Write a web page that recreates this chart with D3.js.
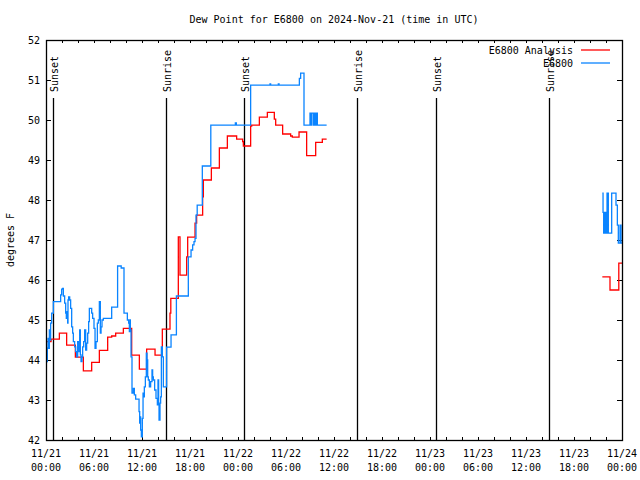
<!DOCTYPE html>
<html>
<head>
<meta charset="utf-8">
<script src="https://cdn.jsdelivr.net/npm/d3@7"></script>
<style>
  html, body { margin: 0; padding: 0; background: #fff; }
  svg { display: block; }
  text { font-family: "DejaVu Sans Mono", "Liberation Mono", monospace; font-size: 10px; fill: #000; }
</style>
</head>
<body>
<svg id="chart" width="640" height="480"></svg>
<script>
// ---- data (hours since 2024-11-21 00:00 UTC) ----
const titleText = "Dew Point for E6800 on 2024-Nov-21 (time in UTC)";
const yLabel = "degrees F";
const seriesNames = ["E6800 Analysis", "E6800"];

const analysisHours = [0.08, 0.63, 1.67, 2.58, 3.67, 4.67, 5.71, 6.67, 7.71, 8.21, 8.71, 9.67, 10.71, 11.67, 12.58, 13.63, 14.54, 15.5, 15.6, 16.54, 16.75, 17.58, 17.71, 18.63, 18.83, 19.58, 19.67, 20.67, 21.67, 22.67, 23.83, 24.58, 24.67, 25.58, 25.71, 26.67, 27.67, 28.54, 28.71, 29.58, 30.58, 30.79, 31.63, 32.58, 33.71, 34.54, 35.08, 35.1,
  69.54, 70.5, 71.6, 72.0];
const analysisValues = [44.46, 44.52, 44.67, 44.37, 44.07, 43.73, 43.94, 44.24, 44.57, 44.6, 44.67, 44.79, 44.12, 43.77, 44.27, 44.12, 44.77, 45.17, 45.54, 47.08, 46.12, 46.58, 47.07, 47.42, 47.62, 48.08, 48.5, 48.8, 49.3, 49.6, 49.52, 49.46, 49.35, 49.85, 49.87, 50.07, 50.19, 50.02, 49.87, 49.65, 49.6, 49.57, 49.7, 49.11, 49.44, 49.52, 49.52, null,
  46.08, 45.75, 46.42, 46.42];

const obsHours = [0.0, 0.08, 0.17, 0.25, 0.33, 0.42, 0.5, 0.58, 0.71, 0.92, 1.83, 1.96, 2.08, 2.17, 2.33, 2.46, 2.54, 2.63, 2.71, 2.75, 2.83, 2.96, 3.08, 3.21, 3.33, 3.42, 3.58, 3.71, 3.83, 3.96, 4.08, 4.21, 4.29, 4.38, 4.5, 4.58, 4.71, 4.83, 4.96, 5.08, 5.21, 5.33, 5.42, 5.71, 5.83, 6.0, 6.13, 6.25, 6.42, 6.54, 6.67, 6.79, 6.88, 7.0, 7.17, 8.21, 8.95, 9.4, 9.75, 10.17, 10.33, 10.42, 10.5, 10.54, 10.63, 10.75, 10.92, 11.04, 11.21, 11.63, 11.71, 11.79, 11.83, 11.92, 12.04, 12.13, 12.21, 12.29, 12.42, 12.54, 12.63, 12.71, 12.79, 12.92, 13.08, 13.25, 13.33, 13.42, 13.58, 13.75, 13.92, 14.0, 14.08, 14.13, 14.25, 14.33, 14.42, 14.54, 14.67, 15.08, 15.63, 16.3, 17.79, 18.13, 18.33, 18.5, 18.63, 18.75, 18.9, 19.54, 20.6, 23.67, 23.79, 25.58, 28.0, 28.08, 29.04, 29.13, 31.67, 31.83, 32.25, 33.0, 33.13, 33.21, 33.42, 33.5, 33.58, 33.67, 33.75, 33.83, 33.92, 34.2, 35.08, 35.1,
  69.54, 69.63, 69.71, 69.79, 69.88, 69.96, 70.04, 70.13, 70.29, 70.71, 71.25, 71.42, 71.54, 71.75, 71.88, 72.0];
const obsValues = [44.3, 43.96, 44.29, 44.54, 44.29, 44.75, 44.5, 44.92, 45.17, 45.46, 45.63, 45.77, 45.79, 45.6, 45.42, 45.17, 45.04, 45.21, 44.92, 45.5, 45.58, 45.5, 45.29, 44.83, 44.67, 44.46, 44.33, 44.21, 44.08, 44.46, 44.21, 44.75, 44.13, 43.96, 44.08, 44.33, 44.46, 44.75, 44.25, 44.42, 44.67, 44.96, 45.29, 45.17, 45.04, 44.79, 44.29, 44.46, 44.92, 45.0, 45.46, 44.67, 44.83, 45.0, 45.04, 45.32, 46.35, 46.3, 45.17, 45.0, 44.92, 44.71, 45.0, 44.75, 44.08, 43.17, 43.29, 43.13, 43.02, 42.71, 42.42, 42.58, 42.25, 42.08, 42.54, 43.17, 43.08, 43.33, 43.58, 44.17, 44.0, 43.58, 43.5, 43.33, 43.46, 43.75, 43.58, 43.5, 43.25, 43.04, 42.88, 43.5, 42.88, 42.5, 42.92, 43.08, 44.33, 44.08, 43.33, 44.32, 44.63, 45.6, 46.58, 46.75, 46.88, 46.96, 47.04, 47.62, 47.87, 48.85, 49.87, 49.93, 49.87, 50.87, 50.9, 50.87, 50.9, 50.87, 51.04, 51.17, 49.87, 50.17, 49.87, 50.17, 49.87, 50.17, 49.87, 50.17, 49.87, 50.17, 49.87, 49.87, 49.87, null,
  48.17, 47.69, 47.17, 47.69, 47.17, 47.69, 47.17, 48.17, 47.17, 48.17, 47.87, 47.37, 46.92, 47.37, 46.92, 46.92];

const eventNames = ["Sunset", "Sunrise", "Sunset", "Sunrise", "Sunset", "Sunrise"];
const eventHours = [0.9, 15.06, 24.8, 38.88, 48.75, 62.88];

const yTicks = [42, 43, 44, 45, 46, 47, 48, 49, 50, 51, 52];

// ---- layout ----
const svg = d3.select("#chart");
const L = 46, R = 622, T = 40, B = 440;
const t0 = Date.UTC(2024, 10, 21, 0, 0);
const toDate = h => new Date(t0 + h * 3600e3);

const x = d3.scaleUtc().domain([toDate(0), toDate(72)]).range([L, R]);
const y = d3.scaleLinear().domain([42, 52]).range([B, T]);

const red = "#ff0000", blue = "#0a84ff";

// title
svg.append("text").attr("x", (L + R) / 2).attr("y", 23).attr("text-anchor", "middle").text(titleText);

// y label
svg.append("text").attr("transform", `translate(14,${(T + B) / 2}) rotate(-90)`)
  .attr("text-anchor", "middle").text(yLabel);

const g = svg.append("g");

// axes with inward ticks
const xTickVals = d3.utcHour.every(2).range(toDate(0), toDate(72.01));
const axBottom = d3.axisBottom(x).tickValues(xTickVals).tickSizeInner(-3).tickSizeOuter(0).tickFormat("");
const axTop = d3.axisTop(x).tickValues(xTickVals).tickSizeInner(-3).tickSizeOuter(0).tickFormat("");
const axLeft = d3.axisLeft(y).tickValues(yTicks).tickSizeInner(-5).tickSizeOuter(0).tickFormat("");
const axRight = d3.axisRight(y).tickValues(yTicks).tickSizeInner(-5).tickSizeOuter(0).tickFormat("");

function styleAxis(sel) {
  sel.selectAll("path").remove();
  sel.selectAll("line").attr("stroke", "#000").attr("shape-rendering", "crispEdges");
}
g.append("g").attr("transform", `translate(0,${B})`).call(axBottom).call(styleAxis);
g.append("g").attr("transform", `translate(0,${T})`).call(axTop).call(styleAxis);
g.append("g").attr("transform", `translate(${L},0)`).call(axLeft).call(styleAxis);
g.append("g").attr("transform", `translate(${R},0)`).call(axRight).call(styleAxis);

// y tick labels
g.selectAll(".ylab").data(yTicks).enter().append("text")
  .attr("x", 40).attr("y", d => y(d) + 4).attr("text-anchor", "end").text(d => d);

// x tick labels (every 6h, two lines)
const xLabelVals = d3.utcHour.every(6).range(toDate(0), toDate(72.01));
const fDate = d3.utcFormat("%m/%d"), fTime = d3.utcFormat("%H:%M");
const xl = g.selectAll(".xlab").data(xLabelVals).enter().append("text")
  .attr("text-anchor", "middle");
xl.append("tspan").attr("x", d => x(d)).attr("y", 457).text(d => fDate(d));
xl.append("tspan").attr("x", d => x(d)).attr("y", 471).text(d => fTime(d));

// sunrise / sunset lines
eventHours.forEach((h, i) => {
  const px = Math.round(x(toDate(h))) + 0.5;
  g.append("line").attr("x1", px).attr("x2", px).attr("y1", 98).attr("y2", B)
    .attr("stroke", "#000").attr("stroke-width", 1.3);
  g.append("text").attr("transform", `translate(${px + 4},92) rotate(-90)`)
    .attr("text-anchor", "start").text(eventNames[i]);
});

// series
const line = d3.line()
  .defined(d => d.v != null)
  .x(d => x(toDate(d.h)))
  .y(d => y(d.v))
  .curve(d3.curveStepAfter);

const obsData = obsHours.map((h, i) => ({ h, v: obsValues[i] }));
const anaData = analysisHours.map((h, i) => ({ h, v: analysisValues[i] }));

g.append("path").datum(anaData).attr("d", line).attr("fill", "none")
  .attr("stroke", red).attr("stroke-width", 1.3);
g.append("path").datum(obsData).attr("d", line).attr("fill", "none")
  .attr("stroke", blue).attr("stroke-width", 1.3);

// frame
g.append("rect").attr("x", L + 0.5).attr("y", T + 0.5).attr("width", R - L).attr("height", B - T)
  .attr("fill", "none").attr("stroke", "#000").attr("stroke-width", 1.3);

// legend
const legColors = [red, blue];
seriesNames.forEach((n, i) => {
  const ly = 50 + i * 13;
  g.append("text").attr("x", 573).attr("y", ly + 4).attr("text-anchor", "end").text(n);
  g.append("line").attr("x1", 581).attr("x2", 610).attr("y1", ly).attr("y2", ly)
    .attr("stroke", legColors[i]).attr("stroke-width", 1.3);
});
</script>
</body>
</html>
